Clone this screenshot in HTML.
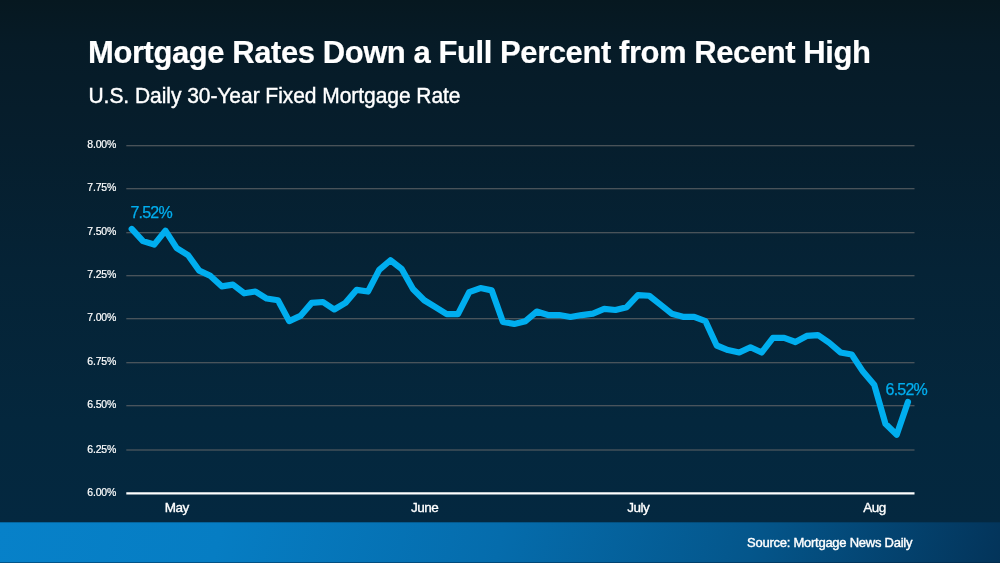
<!DOCTYPE html>
<html><head><meta charset="utf-8"><title>Mortgage Rates</title>
<style>
html,body{margin:0;padding:0}
body{width:1000px;height:563px;overflow:hidden;position:relative;font-family:"Liberation Sans",sans-serif;color:#fff;
background:linear-gradient(180deg,#061820 0%,#061b27 8%,#061e2d 25%,#052336 48%,#04273d 75%,#042840 93%,#042840 100%)}
.t{position:absolute;left:88px;top:36px;font-size:31px;font-weight:bold;white-space:nowrap;line-height:34px;letter-spacing:-0.43px;-webkit-text-stroke:0.2px #fff}
.s{position:absolute;left:88.5px;top:84px;font-size:21px;white-space:nowrap;line-height:24px;letter-spacing:-0.05px;transform:scaleY(1.04);transform-origin:0 19.5px;-webkit-text-stroke:0.4px #fff}
.yl{position:absolute;left:87.3px;font-size:10.5px;letter-spacing:-0.2px;-webkit-text-stroke:0.2px #fff;line-height:12px;white-space:nowrap}
.xl{position:absolute;top:500px;font-size:13.5px;letter-spacing:-0.55px;line-height:15px;white-space:nowrap;transform:translateX(-50%);-webkit-text-stroke:0.35px #fff}
.dl{position:absolute;font-size:16px;letter-spacing:-0.8px;line-height:16px;color:#00aeef;-webkit-text-stroke:0.25px #00aeef;white-space:nowrap}
.band{position:absolute;left:0;top:522px;width:1000px;height:41px;box-shadow:inset 0 1px 0 rgba(4,40,64,0.3);background:linear-gradient(104deg,#0781c9 0%,#067dc3 22%,#056cac 50%,#04568b 75%,#03345a 100%)}
.band:after{content:"";position:absolute;left:0;right:0;bottom:0;height:1px;background:rgba(0,30,60,.45)}
.src{position:absolute;left:747px;top:535px;font-size:13px;letter-spacing:-0.25px;line-height:15px;white-space:nowrap;-webkit-text-stroke:0.4px #fff}
svg{position:absolute;left:0;top:0}
.wrap{position:absolute;left:0;top:0;width:1000px;height:563px;will-change:transform}
</style></head><body><div class="wrap">
<div class="t">Mortgage Rates Down a Full Percent from Recent High</div>
<div class="s">U.S. Daily 30-Year Fixed Mortgage Rate</div>
<div class="yl" style="top:138px">8.00%</div><div class="yl" style="top:181px">7.75%</div><div class="yl" style="top:225px">7.50%</div><div class="yl" style="top:268px">7.25%</div><div class="yl" style="top:311px">7.00%</div><div class="yl" style="top:355px">6.75%</div><div class="yl" style="top:398px">6.50%</div><div class="yl" style="top:443px">6.25%</div><div class="yl" style="top:486px">6.00%</div>
<svg width="1000" height="563" viewBox="0 0 1000 563">
<g stroke="#606467" stroke-width="1.1"><line x1="126.3" x2="914.5" y1="145.8" y2="145.8"/><line x1="126.3" x2="914.5" y1="188.8" y2="188.8"/><line x1="126.3" x2="914.5" y1="232.8" y2="232.8"/><line x1="126.3" x2="914.5" y1="275.8" y2="275.8"/><line x1="126.3" x2="914.5" y1="318.8" y2="318.8"/><line x1="126.3" x2="914.5" y1="362.8" y2="362.8"/><line x1="126.3" x2="914.5" y1="405.8" y2="405.8"/><line x1="126.3" x2="914.5" y1="450.0" y2="450.0"/></g>
<line x1="126.3" x2="914.5" y1="493.4" y2="493.4" stroke="#fff" stroke-width="2.3"/>
<polyline points="131.70,228.92 142.95,241.10 154.20,244.58 165.45,230.66 176.70,248.06 187.95,255.02 199.20,270.68 210.45,275.90 221.70,286.34 232.95,284.60 244.20,293.30 255.45,291.56 266.70,298.52 277.95,300.26 289.20,321.14 300.45,315.92 311.70,302.87 322.95,302.00 334.20,309.48 345.45,302.87 356.70,289.82 367.95,291.56 379.20,269.81 390.45,260.24 401.70,268.94 412.95,288.95 424.20,300.26 435.45,307.22 446.70,314.18 457.95,314.18 469.20,292.08 480.45,288.08 491.70,290.34 502.95,322.01 514.20,323.92 525.45,321.14 536.70,311.57 547.95,315.05 559.20,315.05 570.45,316.96 581.70,315.05 592.95,313.66 604.20,308.96 615.45,310.00 626.70,307.22 637.95,295.04 649.20,295.74 660.45,304.61 671.70,313.66 682.95,316.79 694.20,316.79 705.45,321.14 716.70,345.50 727.95,350.02 739.20,352.46 750.45,347.24 761.70,352.46 772.95,337.84 784.20,337.84 795.45,342.02 806.70,335.93 817.95,335.06 829.20,342.72 840.45,352.46 851.70,354.55 862.95,371.60 874.20,384.65 885.45,423.80 896.70,434.76 907.95,402.05" fill="none" stroke="#00aeef" stroke-width="6.2" stroke-linejoin="round" stroke-linecap="round"/>
</svg>
<div class="dl" style="left:130.5px;top:205px">7.52%</div>
<div class="dl" style="left:885.6px;top:382px">6.52%</div>
<div class="xl" style="left:176.8px">May</div>
<div class="xl" style="left:424.6px">June</div>
<div class="xl" style="left:638.2px">July</div>
<div class="xl" style="left:874.5px">Aug</div>
<div class="band"></div>
<div class="src">Source: Mortgage News Daily</div>
</div></body></html>
